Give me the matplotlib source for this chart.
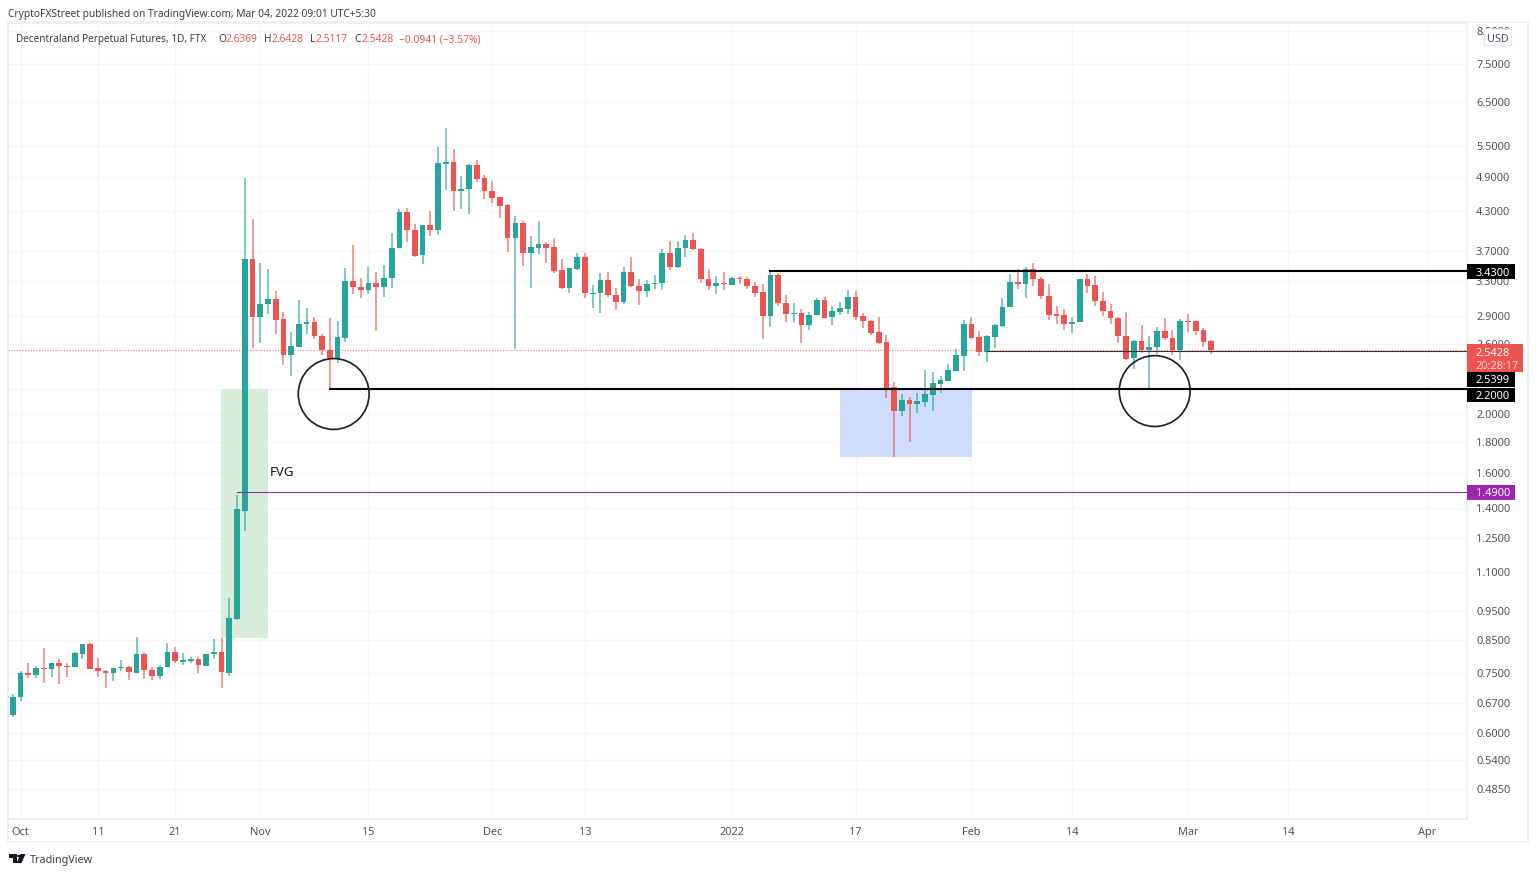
#!/usr/bin/env python3
"""Decentraland perpetual futures daily candles with marked levels (TradingView look)."""
import numpy as np
import matplotlib
matplotlib.use("Agg")
import matplotlib.pyplot as plt
from matplotlib.patches import Rectangle, FancyBboxPatch, Polygon
from matplotlib.ticker import NullLocator, FixedLocator, FixedFormatter

# ---------- data ----------
FIRST_DAY = -1   # days counted from 1 Oct 2021
opens = [
    .640,
    .686, .752, .746, .766, .763, .780, .772, .769, .808, .839,
    .766, .757, .752, .766, .769, .752, .808, .760, .743, .769,
    .814, .783, .786, .792, .772, .808, .814, .752, .921, 1.386,
    3.590, 2.884, 3.029, 3.087, 2.862, 2.498, 2.575, 2.808, 2.829, 2.684,
    2.546, 2.470, 2.664, 3.303, 3.230, 3.193, 3.279, 3.230, 3.341, 3.743,
    4.288, 4.006, 3.645, 4.082, 4.006, 5.140, 5.179, 4.641, 4.677, 5.121,
    4.875, 4.641, 4.537, 4.403, 3.886, 4.113, 3.673, 3.743, 3.799, 3.757,
    3.444, 3.217, 3.456, 3.617, 3.146, 3.157, 3.316, 3.134, 3.052, 3.418,
    3.242, 3.181, 3.266, 3.279, 3.673, 3.482, 3.743, 3.857, 3.728, 3.329,
    3.242, 3.279, 3.254, 3.341, 3.329, 3.242, 3.169, 2.895, 3.379, 3.041,
    2.917, 2.928, 2.797, 2.906, 3.075, 2.884, 2.939, 2.972, 3.110, 2.895,
    2.840, 2.725, 2.624, 2.214, 2.021, 2.108, 2.076, 2.092, 2.148, 2.239,
    2.265, 2.351, 2.489, 2.808, 2.674, 2.527, 2.674, 2.787, 2.995, 3.291,
    3.266, 3.456, 3.329, 3.122, 2.917, 2.906, 2.808, 2.829, 3.329, 3.254,
    3.064, 2.950, 2.873, 2.684, 2.470, 2.634, 2.546, 2.575, 2.735, 2.664,
    2.546, 2.840, 2.840, 2.745, 2.6369,
]
highs = [
    .695,
    .757, .780, .772, .826, .780, .792, .780, .814, .839, .842,
    .796, .760, .766, .789, .772, .860, .811, .769, .775, .842,
    .829, .811, .799, .799, .808, .854, .857, .998, 1.472, 4.875,
    4.176, 3.535, 3.456, 3.181, 2.939, 2.725, 3.075, 2.984, 2.884, 2.705,
    2.873, 2.840, 3.469, 3.785, 3.341, 3.482, 3.418, 3.508, 3.961, 4.337,
    4.353, 4.097, 4.082, 4.304, 5.484, 5.895, 5.440, 4.913, 5.140, 5.218,
    4.932, 4.819, 4.537, 4.420, 4.224, 4.144, 3.916, 4.144, 3.828, 3.886,
    3.590, 3.469, 3.673, 3.673, 3.254, 3.405, 3.418, 3.217, 3.482, 3.617,
    3.329, 3.316, 3.379, 3.728, 3.842, 3.842, 3.931, 3.961, 3.743, 3.456,
    3.367, 3.418, 3.354, 3.367, 3.354, 3.291, 3.266, 3.418, 3.405, 3.134,
    3.041, 2.972, 2.939, 3.099, 3.110, 3.006, 3.052, 3.193, 3.181, 2.928,
    2.851, 2.884, 2.694, 2.256, 2.156, 2.132, 2.164, 2.360, 2.342, 2.308,
    2.415, 2.556, 2.851, 2.884, 2.735, 2.694, 2.808, 3.099, 3.392, 3.456,
    3.482, 3.535, 3.354, 3.266, 3.006, 2.972, 2.884, 3.329, 3.392, 3.367,
    3.169, 3.029, 2.884, 2.939, 2.644, 2.797, 2.684, 2.776, 2.873, 2.745,
    2.862, 2.917, 2.840, 2.766, 2.6428,
]
lows = [
    .636,
    .677, .738, .738, .724, .740, .721, .740, .769, .792, .763,
    .740, .710, .729, .757, .732, .752, .735, .732, .735, .769,
    .780, .775, .780, .752, .772, .792, .710, .743, .918, 1.285,
    2.565, 2.614, 2.917, 2.705, 2.406, 2.308, 2.575, 2.705, 2.654, 2.498,
    2.189, 2.424, 2.624, 3.146, 3.099, 3.146, 2.735, 3.110, 3.217, 3.743,
    3.828, 3.617, 3.522, 3.916, 3.931, 4.659, 4.304, 4.337, 4.256, 4.801,
    4.503, 4.436, 4.192, 3.686, 2.556, 3.495, 3.217, 3.659, 3.535, 3.405,
    3.205, 3.157, 3.444, 3.099, 2.984, 2.928, 3.110, 2.961, 3.029, 3.230,
    3.018, 3.110, 3.205, 3.193, 3.444, 3.469, 3.617, 3.714, 3.279, 3.193,
    3.146, 3.193, 3.254, 3.266, 3.205, 3.110, 2.654, 2.776, 3.006, 2.829,
    2.829, 2.614, 2.745, 2.906, 2.873, 2.797, 2.906, 2.917, 2.851, 2.766,
    2.694, 2.604, 2.124, 1.700, 1.984, 1.798, 2.006, 2.052, 2.021, 2.164,
    2.265, 2.351, 2.351, 2.654, 2.489, 2.433, 2.565, 2.776, 2.995, 3.205,
    3.099, 3.242, 3.087, 2.851, 2.808, 2.745, 2.715, 2.829, 3.157, 3.006,
    2.895, 2.808, 2.614, 2.451, 2.369, 2.517, 2.189, 2.508, 2.644, 2.498,
    2.451, 2.725, 2.694, 2.575, 2.5117,
]
closes = [
    .687,
    .752, .746, .766, .763, .780, .772, .769, .811, .839, .763,
    .757, .752, .766, .769, .754, .808, .760, .743, .769, .814,
    .786, .789, .792, .775, .808, .814, .754, .925, 1.396, 3.589,
    2.884, 3.029, 3.087, 2.851, 2.498, 2.585, 2.808, 2.829, 2.684, 2.546,
    2.470, 2.674, 3.303, 3.230, 3.193, 3.279, 3.230, 3.341, 3.743, 4.288,
    4.006, 3.631, 4.082, 4.006, 5.160, 5.179, 4.641, 4.677, 5.121, 4.857,
    4.641, 4.520, 4.386, 3.886, 4.113, 3.673, 3.757, 3.799, 3.743, 3.431,
    3.217, 3.469, 3.617, 3.157, 3.157, 3.316, 3.134, 3.052, 3.418, 3.242,
    3.181, 3.266, 3.279, 3.673, 3.482, 3.743, 3.857, 3.728, 3.329, 3.242,
    3.279, 3.266, 3.341, 3.329, 3.242, 3.157, 2.895, 3.379, 3.041, 2.917,
    2.928, 2.797, 2.906, 3.075, 2.873, 2.950, 2.984, 3.110, 2.884, 2.840,
    2.715, 2.614, 2.206, 2.021, 2.108, 2.076, 2.100, 2.156, 2.248, 2.273,
    2.360, 2.498, 2.808, 2.664, 2.527, 2.684, 2.797, 2.995, 3.291, 3.266,
    3.456, 3.329, 3.122, 2.906, 2.895, 2.808, 2.829, 3.329, 3.242, 3.064,
    2.950, 2.873, 2.684, 2.460, 2.634, 2.546, 2.575, 2.735, 2.664, 2.546,
    2.840, 2.829, 2.735, 2.624, 2.5428,
]

price_ticks = [8.5, 7.5, 6.5, 5.5, 4.9, 4.3, 3.7, 3.3, 2.9, 2.6, 2.2, 2.0, 1.8,
               1.6, 1.4, 1.25, 1.1, .95, .85, .75, .67, .60, .54, .485]
# 2.2 sits behind its own black tag, so that tick carries no label
price_labels = ["8.5000", "7.5000", "6.5000", "5.5000", "4.9000", "4.3000", "3.7000",
                "3.3000", "2.9000", "2.6000", "", "2.0000", "1.8000", "1.6000",
                "1.4000", "1.2500", "1.1000", "0.9500", "0.8500", "0.7500", "0.6700",
                "0.6000", "0.5400", "0.4850"]
date_ticks = [0, 10, 20, 31, 45, 61, 73, 92, 108, 123, 136, 151, 164, 182]
date_labels = ["Oct", "11", "21", "Nov", "15", "Dec", "13", "2022", "17",
               "Feb", "14", "Mar", "14", "Apr"]

# level lines: start day, price
res_start, res_price = 97, 3.43
sup_start, sup_price = 40, 2.20
mid_start, mid_price = 125, 2.5399
fvg_start, fvg_price = 28, 1.49
last_price = 2.5428

# boxes: day range, price range
fvg_days, fvg_prices = (25.9, 32.0), (0.857, 2.2)
ob_days, ob_prices = (106.0, 123.1), (1.70, 2.2)
circle_days, circle_prices = [40.5, 146.7], [2.156, 2.18]

# ---------- style ----------
W, H = 1536, 874
UP, DOWN = "#26a69a", "#ef5350"
GRID, FRAME = "#f5f6fa", "#eceef4"
TXT = "#50535e"
AXFS = 7.9
plt.rcParams.update({"font.family": ["Noto Sans", "DejaVu Sans"], "font.size": AXFS})

fig = plt.figure(figsize=(W / 100, H / 100), dpi=100, facecolor="white")


def fx(x):
    return x / W


def fy(y):
    return 1 - y / H


def price_tag(y0, y1, text, fc, right=1514.5):
    fig.add_artist(Rectangle((fx(1467), fy(y1)), fx(right - 1467), y1 / H - y0 / H,
                             transform=fig.transFigure, fc=fc, ec="none"))
    fig.text(fx(1476), fy((y0 + y1) / 2), text, color="white", ha="left",
             va="center_baseline", fontsize=AXFS)


ax = fig.add_axes([fx(8), fy(819), fx(1467 - 8), (819 - 23) / H])
ax.set_xlim(-1.63, 187.1)
ax.set_yscale("log")
ax.set_ylim(0.4328, 8.757)
ax.yaxis.set_minor_locator(NullLocator())
ax.yaxis.tick_right()
ax.yaxis.set_major_locator(FixedLocator(price_ticks))
ax.yaxis.set_major_formatter(FixedFormatter(price_labels))
ax.set_xticks(date_ticks, date_labels)
ax.tick_params(length=0, labelsize=AXFS, labelcolor=TXT)
ax.tick_params(axis="y", pad=6.5)
ax.tick_params(axis="x", pad=6)
ax.xaxis.get_ticklabels()[7].set_fontweight("bold")
ax.grid(True, color=GRID, lw=0.9)
ax.set_axisbelow(True)
for s in ax.spines.values():
    s.set_color(FRAME)
    s.set_linewidth(1.2)

# shaded zones
ax.add_patch(Rectangle((fvg_days[0], fvg_prices[0]), fvg_days[1] - fvg_days[0],
                       fvg_prices[1] - fvg_prices[0], fc="#d7ecd9", ec="none", zorder=1))
ax.add_patch(Rectangle((ob_days[0], ob_prices[0]), ob_days[1] - ob_days[0],
                       ob_prices[1] - ob_prices[0], fc="#cedcfd", ec="none", zorder=1))

# candles
o, h, l, c = map(np.array, (opens, highs, lows, closes))
days = np.arange(FIRST_DAY, FIRST_DAY + len(c))
col = np.where(c >= o, UP, DOWN)
ax.vlines(days, l, h, colors=col, lw=1.1, alpha=0.75, zorder=3)
ax.bar(days, np.abs(c - o), bottom=np.minimum(o, c), width=0.74, color=col, zorder=4)

# levels
ax.axhline(last_price, color=DOWN, lw=0.8, ls=(0, (1, 1.5)), alpha=0.8, zorder=2)
ax.plot([res_start, 187.1], [res_price] * 2, color="black", lw=1.5, zorder=5)
ax.plot([sup_start, 187.1], [sup_price] * 2, color="black", lw=1.5, zorder=5)
ax.plot([mid_start, 187.1], [mid_price] * 2, color="#333333", lw=0.8, zorder=5)
ax.plot([fvg_start, 187.1], [fvg_price] * 2, color="#9c27b0", lw=0.8, zorder=5)

# the two circles around the 2.20 touches
ax.scatter(circle_days, circle_prices, s=51 ** 2, facecolors="none", edgecolors="#222222",
           linewidths=1.25, zorder=6)
ax.text(32.2, 1.6, "FVG", fontsize=9.6, color="#131722", va="center", ha="left", zorder=6)

# outer frame and price scale
fig.add_artist(Rectangle((fx(8), fy(842)), fx(1527.5 - 8), (842 - 22) / H,
                         transform=fig.transFigure, fc="none", ec=FRAME, lw=1.2))

# right-hand tags
price_tag(264.5, 279, "3.4300", "black")
price_tag(372, 386.5, "2.5399", "black")
price_tag(388, 402, "2.2000", "black")
price_tag(485, 500, "1.4900", "#9c27b0")
fig.add_artist(Rectangle((fx(1467), fy(372)), fx(56), 28 / H, transform=fig.transFigure,
                         fc=DOWN, ec="none"))
fig.text(fx(1476), fy(352), "2.5428", color="white", va="center_baseline", fontsize=AXFS)
fig.text(fx(1476), fy(365), "20:28:17", color="#fbd5d4", va="center_baseline", fontsize=AXFS)

# USD box
fig.add_artist(FancyBboxPatch((fx(1486), fy(45)), fx(24), 15 / H, transform=fig.transFigure,
                              boxstyle="round,pad=0.001,rounding_size=0.002",
                              fc="white", ec="#e0e3eb", lw=0.8))
fig.text(fx(1498), fy(37.5), "USD", color=TXT, ha="center", va="center_baseline", fontsize=7.8)

# header and legend line
fig.text(fx(8), fy(13), "CryptoFXStreet published on TradingView.com, Mar 04, 2022 09:01 UTC+5:30",
         color="#3c3f48", va="center_baseline", fontsize=7.35)
fig.text(fx(16), fy(38), "Decentraland Perpetual Futures, 1D, FTX", color="#3c3f48",
         va="center_baseline", fontsize=7.2)
for x, s, cc in [(218.5, "O", "#3c3f48"), (226, "2.6369", DOWN), (264, "H", "#3c3f48"),
                 (272, "2.6428", DOWN), (310, "L", "#3c3f48"), (315.5, "2.5117", DOWN),
                 (354, "C", "#3c3f48"), (361, "2.5428", DOWN), (399, "−0.0941 (−3.57%)", DOWN)]:
    fig.text(fx(x), fy(38), s, color=cc, va="center_baseline", fontsize=7.35)

# TradingView mark
LOGO = "#131722"
for pts in ([(8.5, 854), (17, 854), (17, 863), (12.5, 863), (12.5, 858), (8.5, 858)],
            [(20.5, 854), (25.5, 854), (21.5, 863), (16.5, 863)]):
    fig.add_artist(Polygon([(fx(a), fy(b)) for a, b in pts], closed=True,
                           transform=fig.transFigure, fc=LOGO, ec="none"))
fig.add_artist(plt.Circle((fx(19), fy(856)), 2 / W, transform=fig.transFigure, fc=LOGO, ec="none"))
fig.text(fx(30), fy(858.5), "TradingView", color="#3c3f48", va="center_baseline", fontsize=7.8)

fig.savefig("out.png", dpi=100, facecolor="white")
